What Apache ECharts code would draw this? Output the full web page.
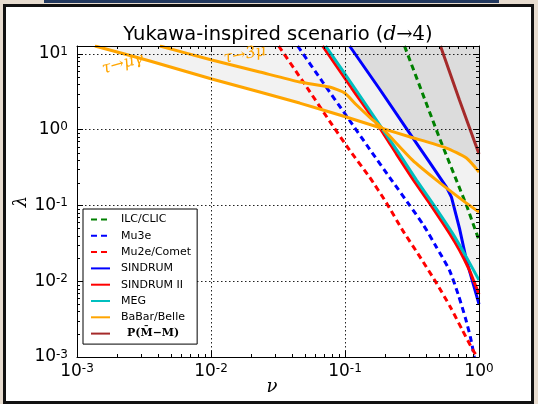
<!DOCTYPE html>
<html><head><meta charset="utf-8">
<script src="https://cdn.jsdelivr.net/npm/echarts@6/dist/echarts.min.js"></script>
<style>
html,body{margin:0;padding:0;width:538px;height:404px;overflow:hidden;background:#e7dccf;}
#bar{position:absolute;left:44px;top:0;width:455px;height:3px;background:#23395f;}
#frame{position:absolute;left:3px;top:4px;width:525px;height:394px;border:3px solid #111;background:#fff;}
#chart{position:absolute;left:0;top:0;width:538px;height:404px;}
</style></head><body>
<div id="bar"></div><div id="frame"></div><div id="chart"></div>
<script>
// ---- data: [nu, lambda] pairs ----
const ilc = [[0.2780,12.75],[0.5070,0.777],[0.8054,0.1012],[1.0,0.0349]];
const mu3e = [[0.04433,12.75],[0.06808,4.27],[0.1027,1.517],[0.1525,0.556],[0.2225,0.2166],[0.3030,0.1012],[0.3852,0.05508],[0.4815,0.02821],[0.6015,0.01402],[0.7023,0.00655],[0.7920,0.00326],[0.8627,0.001828],[0.9241,0.001]];
const mu2e = [[0.03200,12.75],[0.05175,3.66],[0.0767,1.303],[0.1082,0.5393],[0.1524,0.2372],[0.2042,0.1076],[0.2686,0.04732],[0.3597,0.02146],[0.4815,0.00944],[0.6120,0.00455],[0.752,0.00226],[0.8929,0.001268],[0.973,0.001]];
const sindrum = [[0.1082,12.75],[0.1811,3.449],[0.2927,0.991],[0.4270,0.3745],[0.5715,0.175],[0.6228,0.1291],[0.7145,0.05029],[0.8054,0.0190],[0.8929,0.01003],[1.0,0.00498]];
const sindrum2 = [[0.06808,12.75],[0.1120,3.555],[0.1842,1.0216],[0.2423,0.4775],[0.3245,0.2166],[0.4270,0.1076],[0.6015,0.04319],[0.7145,0.02576],[0.8483,0.01402],[0.9085,0.01034],[1.0,0.00676]];
const meg = [[0.07166,12.75],[0.1179,3.555],[0.1905,1.0216],[0.2551,0.4775],[0.3416,0.2166],[0.4495,0.1076],[0.6334,0.04319],[0.8054,0.02082],[1.0,0.01034]];
const tauMuGamma = [[0.00136,12.75],[0.00350,8.08],[0.01014,4.68],[0.02311,3.15],[0.0459,2.25],[0.0993,1.494],[0.1905,1.037],[0.3027,0.808],[0.5715,0.573],[0.8054,0.4226],[1.0,0.276]];
const tau3Mu = [[0.004153,12.75],[0.01014,8.33],[0.02311,5.78],[0.0459,4.27],[0.0767,3.66],[0.0993,3.05],[0.1220,2.12],[0.1524,1.47],[0.1905,1.037],[0.3190,0.398],[0.4815,0.2166],[0.752,0.1178],[1.0,0.0818]];
const pmm = [[0.5158,12.75],[0.7145,2.467],[1.0,0.4775]];
// excluded-region edges (light: any bound, dark: overlap region)
const lightEdge = tauMuGamma.slice(0,7).concat(sindrum2.slice(3));
const darkEdge = sindrum.slice(0,3).concat([[0.319,0.789]], tauMuGamma.slice(8));
const annotations = [{text:'τ→μγ', pos:[0.0022,7.4], rot:-15},{text:'τ→3μ', pos:[0.0179,9.8], rot:-11}];
const xRange = [0.001, 1];
const yRange = [0.001, 12.75];
const majorTicks = [0.001, 0.01, 0.1, 1, 10];
const minorMultipliers = [2,3,4,5,6,7,8,9];
const legendNames = ['ILC/CLIC','Mu3e','Mu2e/Comet','SINDRUM','SINDRUM II','MEG','BaBar/Belle','P(M̄−M)'];

const SANS = 'DejaVu Sans';
const SERIF = 'DejaVu Serif';
function powLabel(v){
  const l = Math.log10(v), e = Math.round(l);
  if (Math.abs(l-e) > 1e-6) return '';
  return '{b|10}{s|' + e + '}';
}
const labelRich = {
  b:{fontSize:17,fontFamily:SANS,lineHeight:17,padding:[3,0,0,0],verticalAlign:'bottom',color:'#000'},
  s:{fontSize:12,fontFamily:SANS,lineHeight:12,verticalAlign:'top',color:'#000'}
};
const gridLine = {show:true,lineStyle:{color:'#222',width:1,type:[1.5,2.5]}};
const plainAxisLine = {show:true,lineStyle:{color:'#000',width:1}};
const majorTick = {show:true,inside:true,length:6,lineStyle:{color:'#000',width:1}};

function lineSeries(name, data, color, dashed, extra){
  return Object.assign({
    name:name, type:'line', data:data, symbol:'none', showSymbol:false, color:color,
    lineStyle:{color:color,width:3,type:dashed?[6,4]:'solid'},
    xAxisIndex:0,yAxisIndex:0,silent:true,animation:false,z:2
  }, extra||{});
}

// minor tick positions (2..9 x each decade)
const minorList = [];
majorTicks.forEach(function(p){
  minorMultipliers.forEach(function(m){ minorList.push(p*m); });
});

const titleGraphic = {type:'text',x:278,y:35,z:10,style:{text:'{a|Yukawa-inspired scenario (}{i|d}{m|→4}{a|)}',
    align:'center',verticalAlign:'middle',textAlign:'center',textVerticalAlign:'middle',
    rich:{a:{fontFamily:SANS,fontSize:19.5,fill:'#000',color:'#000'},
          i:{fontFamily:SERIF,fontStyle:'italic',fontSize:20,fill:'#000',color:'#000'},
          m:{fontFamily:SERIF,fontSize:19.5,fill:'#000',color:'#000'}}}};

const chart = echarts.init(document.getElementById('chart'), null, {renderer:'canvas'});
chart.setOption({
  backgroundColor:'transparent',
  animation:false,
  grid:{left:77,right:59,top:46,bottom:47,containLabel:false,outerBoundsMode:'none'},
  legend:{
    data:legendNames, orient:'vertical', left:83, top:209, selectedMode:false,
    itemWidth:19, itemHeight:12, itemGap:5.3, padding:[5,6,5,7],
    backgroundColor:'#fff', borderColor:'#000', borderWidth:1, borderRadius:0,
    itemStyle:{opacity:0},
    textStyle:{fontFamily:SANS,fontSize:11,color:'#000',padding:[0,0,0,6],
      rich:{p:{fontFamily:SERIF,fontWeight:'bold',fontSize:11,color:'#000',padding:[0,0,0,6]}}},
    formatter:function(n){ return n==='P(M̄−M)' ? '{p|'+n+'}' : n; }
  },
  xAxis:[
    {type:'log',logBase:10,min:xRange[0],max:xRange[1],position:'bottom',z:3,
     axisLine:plainAxisLine, axisTick:majorTick, minorTick:{show:false}, splitLine:gridLine,
     axisLabel:{formatter:powLabel,rich:labelRich,margin:6,showMinLabel:true,showMaxLabel:true},
     name:'ν',nameLocation:'middle',nameGap:21,nameMoveOverlap:false,
     nameTextStyle:{fontFamily:SERIF,fontStyle:'italic',fontSize:18,color:'#000',padding:[0,12,0,0]}},
    {type:'log',logBase:10,min:xRange[0],max:xRange[1],position:'top',z:3,
     axisLine:plainAxisLine, axisTick:majorTick, minorTick:{show:false}, splitLine:{show:false}, axisLabel:{show:false}}
  ],
  yAxis:[
    {type:'log',logBase:10,min:yRange[0],max:yRange[1],position:'left',z:3,
     axisLine:plainAxisLine, axisTick:majorTick, minorTick:{show:false}, splitLine:gridLine,
     axisLabel:{formatter:powLabel,rich:labelRich,margin:9},
     name:'λ',nameLocation:'middle',nameGap:47,nameMoveOverlap:false,
     nameTextStyle:{fontFamily:SERIF,fontStyle:'italic',fontSize:18,color:'#000'}},
    {type:'log',logBase:10,min:yRange[0],max:yRange[1],position:'right',z:3,
     axisLine:plainAxisLine, axisTick:majorTick, minorTick:{show:false}, splitLine:{show:false}, axisLabel:{show:false}}
  ],
  series:[
    {name:'fill-light',type:'line',data:lightEdge,symbol:'none',lineStyle:{width:0,opacity:0},
     areaStyle:{color:'#f2f2f2',opacity:1,origin:'end'},z:0,silent:true},
    {name:'fill-dark',type:'line',data:darkEdge,symbol:'none',lineStyle:{width:0,opacity:0},
     areaStyle:{color:'#dcdcdc',opacity:1,origin:'end'},z:0,silent:true},
    lineSeries('ILC/CLIC', ilc, '#008000', true),
    lineSeries('Mu3e', mu3e, '#0000ff', true, {smooth:0.2}),
    lineSeries('Mu2e/Comet', mu2e, '#ff0000', true, {smooth:0.2}),
    lineSeries('SINDRUM', sindrum, '#0000ff', false),
    lineSeries('SINDRUM II', sindrum2, '#ff0000', false, {smooth:0.15}),
    lineSeries('MEG', meg, '#00bfbf', false, {smooth:0.15}),
    lineSeries('BaBar/Belle', tauMuGamma, '#ffa500', false, {smooth:0.2}),
    lineSeries('BaBar/Belle', tau3Mu, '#ffa500', false, {smooth:0.2}),
    lineSeries('P(M̄−M)', pmm, '#a52a2a', false)
  ]
});

// minor tick marks and text annotations placed through the chart's own scales
const px = function(pt){ return chart.convertToPixel({xAxisIndex:0, yAxisIndex:0}, pt); };
const els = [titleGraphic];
const LEN = 3;
minorList.forEach(function(v){
  if (v > xRange[0] && v < xRange[1]) {
    const b = px([v, yRange[0]]), tp = px([v, yRange[1]]);
    const x = Math.round(b[0]) + 0.5;
    els.push({type:'line', z:8, silent:true, shape:{x1:x,y1:b[1],x2:x,y2:b[1]-LEN}, style:{stroke:'#000', lineWidth:1}});
    els.push({type:'line', z:8, silent:true, shape:{x1:x,y1:tp[1],x2:x,y2:tp[1]+LEN}, style:{stroke:'#000', lineWidth:1}});
  }
  if (v > yRange[0] && v < yRange[1]) {
    const l = px([xRange[0], v]), r = px([xRange[1], v]);
    const y = Math.round(l[1]) + 0.5;
    els.push({type:'line', z:8, silent:true, shape:{x1:l[0],y1:y,x2:l[0]+LEN,y2:y}, style:{stroke:'#000', lineWidth:1}});
    els.push({type:'line', z:8, silent:true, shape:{x1:r[0],y1:y,x2:r[0]-LEN,y2:y}, style:{stroke:'#000', lineWidth:1}});
  }
});
annotations.forEach(function(a){
  const p = px(a.pos);
  els.push({type:'text', x:p[0], y:p[1], rotation:-a.rot*Math.PI/180, z:10, silent:true,
    style:{text:a.text, fill:'#ffa500', font:'italic 16px "DejaVu Serif"',
      align:'center', verticalAlign:'middle', textAlign:'center', textVerticalAlign:'middle'}});
});
chart.setOption({graphic:{elements:els}});
</script></body></html>
